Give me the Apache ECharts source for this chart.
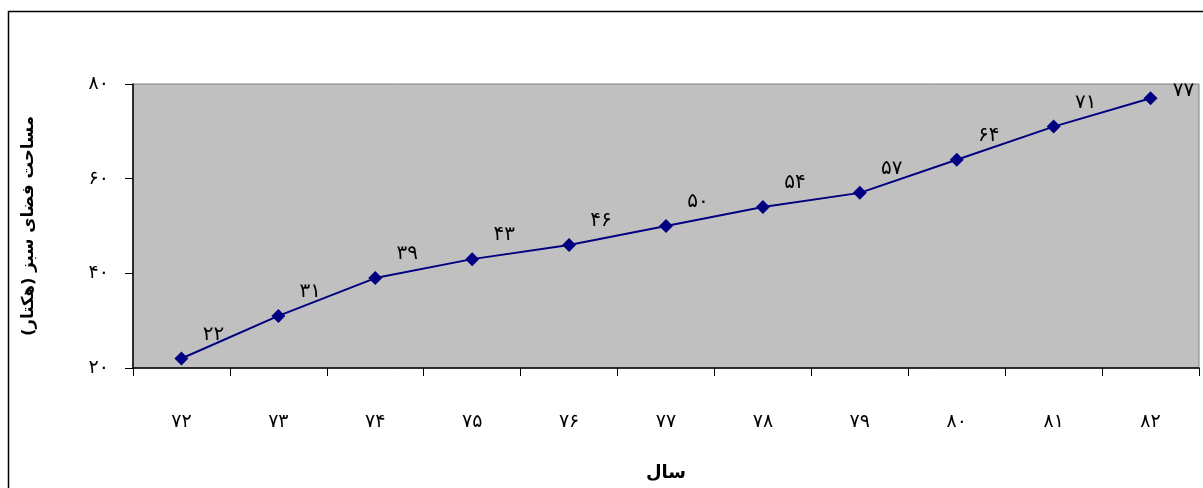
<!DOCTYPE html>
<html><head><meta charset="utf-8">
<script src="https://cdn.jsdelivr.net/npm/echarts@6/dist/echarts.min.js"></script>
<style>html,body{margin:0;padding:0;background:#fff}#c{width:1203px;height:488px}</style>
</head><body><div id="c"></div>
<script>
const categories = ['۷۲','۷۳','۷۴','۷۵','۷۶','۷۷','۷۸','۷۹','۸۰','۸۱','۸۲'];
const values = [22, 31, 39, 43, 46, 50, 54, 57, 64, 71, 77];
const yTickLabels = {20:'۲۰', 40:'۴۰', 60:'۶۰', 80:'۸۰'};
const xTitle = 'سال';
const yTitle = 'مساحت فضای سبز (هکتار)';

const toFa = n => String(n).replace(/\d/g, d => '۰۱۲۳۴۵۶۷۸۹'[d]);
const FONT = '"DejaVu Sans", sans-serif';
const chart = echarts.init(document.getElementById('c'), null, {renderer:'canvas'});
const data = values.map((v, i) => i === values.length - 1
  ? {value: v, label: {offset: [33, -7]}}
  : v);
chart.setOption({
  animation: false,
  backgroundColor: '#fff',
  graphic: [{type:'rect', silent:true, z:-1,
    shape:{x:8.5, y:11.5, width:1210, height:490},
    style:{fill:'none', stroke:'#000', lineWidth:1.5}}],
  grid: {left:133, top:84, right:4, bottom:120, show:true,
    backgroundColor:'#C0C0C0', borderColor:'#808080', borderWidth:1},
  xAxis: {type:'category', data:categories, boundaryGap:true,
    axisLine:{lineStyle:{color:'#000', width:1.5}},
    axisTick:{show:true, length:8, alignWithLabel:false, lineStyle:{color:'#000'}},
    axisLabel:{color:'#000', fontSize:19, margin:45, fontFamily:FONT},
    splitLine:{show:false},
    name:xTitle, nameLocation:'middle', nameGap:96,
    nameTextStyle:{color:'#000', fontSize:18, fontWeight:'bold', fontFamily:FONT}},
  yAxis: {type:'value', min:20, max:80, interval:20,
    axisLine:{show:true, lineStyle:{color:'#000', width:1.5}},
    axisTick:{show:true, length:8, lineStyle:{color:'#000'}},
    axisLabel:{color:'#000', fontSize:19, margin:24, fontFamily:FONT,
      formatter: v => yTickLabels[v] || toFa(v)},
    splitLine:{show:false},
    name:yTitle, nameLocation:'middle', nameGap:96, nameRotate:90,
    nameTextStyle:{color:'#000', fontSize:16.5, fontWeight:'bold', fontFamily:FONT}},
  series: [{type:'line', data:data,
    symbol:'diamond', symbolSize:14,
    lineStyle:{color:'#000080', width:2},
    itemStyle:{color:'#000080'},
    label:{show:true, position:'inside', offset:[32,-24], color:'#000',
      fontSize:20, fontFamily:FONT, formatter: p => toFa(p.value)}}]
});
</script></body></html>
